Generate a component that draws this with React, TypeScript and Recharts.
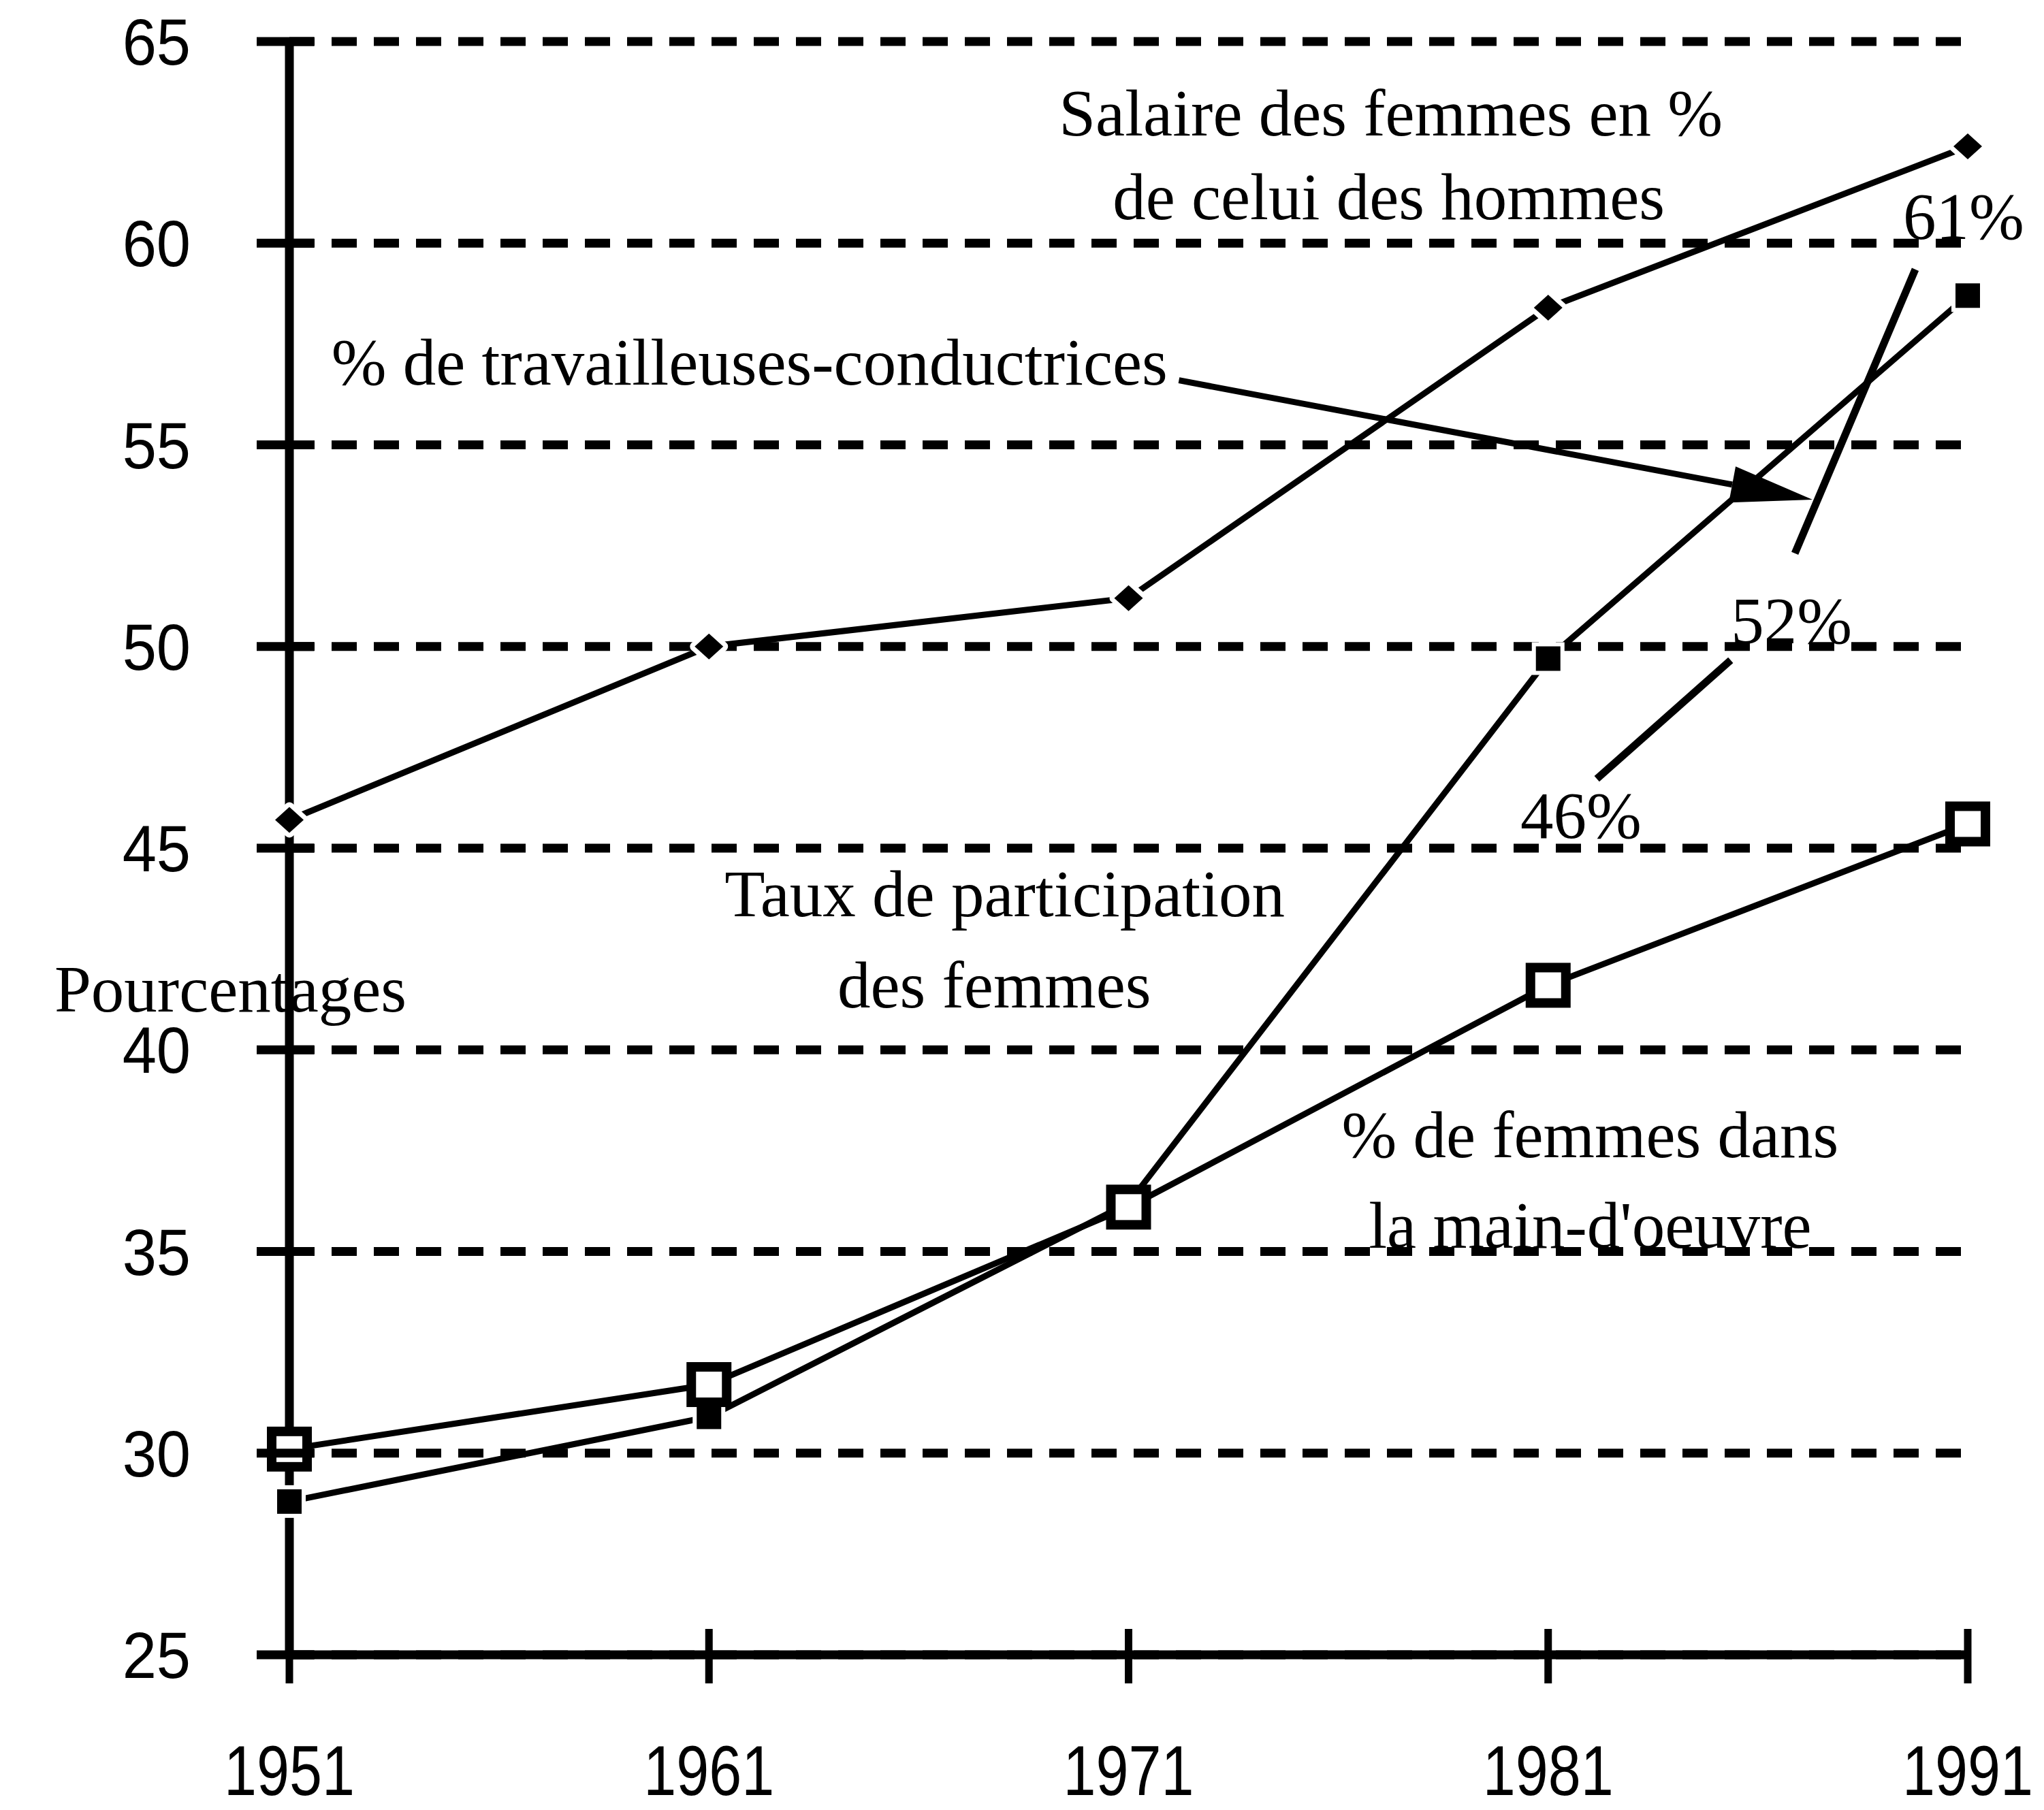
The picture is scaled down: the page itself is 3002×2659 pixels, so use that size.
import React from 'react';
import { LineChart, Line, XAxis, YAxis, CartesianGrid, ReferenceLine, ReferenceDot } from 'recharts';

const years = [1951, 1961, 1971, 1981, 1991];
const salaireFemmes = [45.7, 50.0, 51.2, 58.4, 62.4];
const tauxParticipation = [28.8, 30.9, 36.2, 49.7, 58.7];
const femmesMainOeuvre = [30.1, 31.7, 36.1, 41.6, 45.6];
const yTicks = [25, 30, 35, 40, 45, 50, 55, 60, 65];

const data = years.map((year, i) => ({
  year,
  salaire: salaireFemmes[i],
  participation: tauxParticipation[i],
  mainOeuvre: femmesMainOeuvre[i],
}));

// annotation texts, placed in data units (year, %)
const notes = [
  { text: 'Salaire des femmes en %', x: 1977.25, y: 62.67, anchor: 'middle' },
  { text: 'de celui des hommes', x: 1977.2, y: 60.6, anchor: 'middle' },
  { text: '61%', x: 1990.9, y: 60.1, anchor: 'middle' },
  { text: '% de travailleuses-conductrices', x: 1952.0, y: 56.5, anchor: 'start' },
  { text: '52%', x: 1986.8, y: 50.08, anchor: 'middle' },
  { text: '46%', x: 1981.78, y: 45.25, anchor: 'middle' },
  { text: 'Taux de participation', x: 1968.05, y: 43.31, anchor: 'middle' },
  { text: 'des femmes', x: 1967.8, y: 41.05, anchor: 'middle' },
  { text: 'Pourcentages', x: 1945.4, y: 40.95, anchor: 'start' },
  { text: '% de femmes dans', x: 1982.0, y: 37.34, anchor: 'middle' },
  { text: "la main-d'oeuvre", x: 1982.0, y: 35.1, anchor: 'middle' },
];

const leaders = [
  [{ x: 1989.75, y: 59.35 }, { x: 1986.88, y: 52.31 }],
  [{ x: 1985.35, y: 49.66 }, { x: 1982.16, y: 46.72 }],
];
const arrow = [{ x: 1972.2, y: 56.6 }, { x: 1987.3, y: 53.64 }];

const SERIF = '"Liberation Serif", "Times New Roman", serif';
const SANS = '"Liberation Sans", Arial, sans-serif';

const YTick = ({ x, y, payload }: any) => (
  <g>
    <line x1={x - 48} x2={x + 36} y1={y} y2={y} stroke="#000" strokeWidth={13} />
    <text
      transform={`translate(${x - 145},${y + 34}) scale(0.94,1)`}
      textAnchor="end"
      fontFamily={SANS}
      fontSize={96}
      fill="#000"
    >
      {payload.value}
    </text>
  </g>
);

const XTick = ({ x, y, payload }: any) => (
  <g>
    <line x1={x} x2={x} y1={y - 38} y2={y + 42} stroke="#000" strokeWidth={11} />
    <text
      transform={`translate(${x},${y + 206}) scale(0.83,1)`}
      textAnchor="middle"
      fontFamily={SANS}
      fontSize={104}
      fill="#000"
    >
      {payload.value}
    </text>
  </g>
);

const Diamond = (p: any) => {
  const { cx, cy, index } = p;
  return (
    <path
      key={`d${index}`}
      d={`M${cx},${cy - 19} L${cx + 21},${cy} L${cx},${cy + 19} L${cx - 21},${cy} Z`}
      fill="#000"
      stroke="#fff"
      strokeWidth={14}
      strokeLinejoin="round"
      style={{ paintOrder: 'stroke' }}
    />
  );
};

const FilledSquare = (p: any) => {
  const { cx, cy, index } = p;
  return (
    <rect
      key={`f${index}`}
      x={cx - 18}
      y={cy - 18}
      width={36}
      height={36}
      fill="#000"
      stroke="#fff"
      strokeWidth={12}
      style={{ paintOrder: 'stroke' }}
    />
  );
};

const OpenSquare = (p: any) => {
  const { cx, cy, index } = p;
  return (
    <rect
      key={`o${index}`}
      x={cx - 26}
      y={cy - 26}
      width={52}
      height={52}
      fill="#fff"
      stroke="#000"
      strokeWidth={14}
    />
  );
};

const ArrowShape = (p: any) => {
  const { x1, y1, x2, y2 } = p;
  const len = Math.hypot(x2 - x1, y2 - y1);
  const ux = (x2 - x1) / len;
  const uy = (y2 - y1) / len;
  const bx = x2 - ux * 120;
  const by = y2 - uy * 120;
  const hw = 27;
  return (
    <g>
      <line x1={x1} y1={y1} x2={bx} y2={by} stroke="#000" strokeWidth={9} />
      <polygon
        points={`${x2},${y2} ${bx - uy * hw},${by + ux * hw} ${bx + uy * hw},${by - ux * hw}`}
        fill="#000"
      />
    </g>
  );
};

const NoteText = (text: string, anchor: string) => (p: any) => (
  <text
    x={p.cx}
    y={p.cy}
    textAnchor={anchor}
    fontFamily={SERIF}
    fontSize={97}
    fill="#000"
  >
    {text}
  </text>
);

export default function App() {
  return (
    <div style={{ position: 'absolute', left: 0, top: 0, background: '#fff' }}>
      <LineChart
        width={3002}
        height={2659}
        data={data}
        margin={{ top: 61, right: 112, left: 25, bottom: 28 }}
      >
        <CartesianGrid
          horizontal
          vertical={false}
          stroke="#000"
          strokeWidth={13}
          strokeDasharray="37 25"
        />
        <XAxis
          type="number"
          dataKey="year"
          domain={[1951, 1991]}
          ticks={years}
          height={200}
          tickSize={0}
          tickMargin={0}
          tickLine={false}
          axisLine={{ stroke: '#000', strokeWidth: 13 }}
          tick={<XTick />}
          interval={0}
        />
        <YAxis
          type="number"
          domain={[25, 65]}
          ticks={yTicks}
          width={400}
          tickSize={0}
          tickMargin={0}
          tickLine={false}
          axisLine={{ stroke: '#000', strokeWidth: 13 }}
          tick={<YTick />}
          interval={0}
        />
        {leaders.map((seg, i) => (
          <ReferenceLine
            key={`l${i}`}
            segment={seg}
            stroke="#000"
            strokeWidth={11}
            ifOverflow="visible"
          />
        ))}
        <ReferenceLine segment={arrow} ifOverflow="visible" shape={ArrowShape} />
        <Line
          dataKey="salaire"
          stroke="#000"
          strokeWidth={9}
          dot={Diamond}
          activeDot={false}
          isAnimationActive={false}
        />
        <Line
          dataKey="participation"
          stroke="#000"
          strokeWidth={9}
          dot={FilledSquare}
          activeDot={false}
          isAnimationActive={false}
        />
        <Line
          dataKey="mainOeuvre"
          stroke="#000"
          strokeWidth={9}
          dot={OpenSquare}
          activeDot={false}
          isAnimationActive={false}
        />
        {notes.map((n, i) => (
          <ReferenceDot
            key={`n${i}`}
            x={n.x}
            y={n.y}
            r={1}
            ifOverflow="visible"
            shape={NoteText(n.text, n.anchor)}
          />
        ))}
      </LineChart>
    </div>
  );
}
